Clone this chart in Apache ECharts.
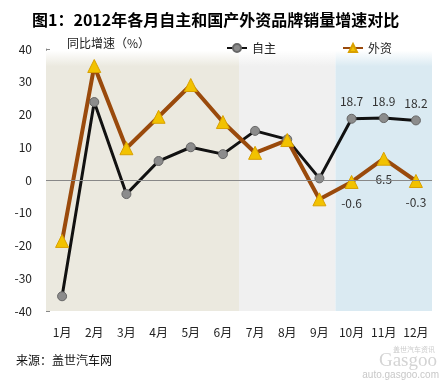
<!DOCTYPE html>
<html><head><meta charset="utf-8">
<script src="https://cdn.jsdelivr.net/npm/echarts@6/dist/echarts.min.js"></script>
<style>html,body{margin:0;padding:0;background:#fff}#c{width:443px;height:382px}</style>
</head><body><div id="c"></div>
<script>
const months = ['1月','2月','3月','4月','5月','6月','7月','8月','9月','10月','11月','12月'];
const domestic = [-35.5, 23.8, -4.3, 5.8, 10.0, 7.9, 15.0, 12.4, 0.5, 18.7, 18.9, 18.2];
const foreign = [-18.6, 34.8, 9.7, 19.3, 29.0, 17.7, 8.3, 12.2, -5.9, -0.6, 6.5, -0.3];
const labeledFrom = 9;
const yTicks = [-40, 40, 10];
const bands = [[0, 6, '#EBE9DF'], [6, 9, '#F0F0F0'], [9, 12, '#DAEAF2']];

const FONT = '"Noto Sans CJK SC", "Noto Sans", sans-serif';
function withLabels(arr, pos, dist) {
  return arr.map((v, i) => i >= labeledFrom
    ? { value: v, label: { show: true, position: pos, distance: dist, color: '#333', fontSize: 12, fontFamily: FONT } }
    : v);
}
function grad(c) {
  return { type: 'linear', x: 0, y: 0, x2: 0, y2: 1, colorStops: [
    { offset: 0, color: '#ffffff' }, { offset: 0.06, color: c }, { offset: 1, color: c }] };
}
const chart = echarts.init(document.getElementById('c'));
chart.setOption({
  animation: false,
  textStyle: { fontFamily: FONT },
  title: { text: '图1：2012年各月自主和国产外资品牌销量增速对比', left: 27, top: 7,
    textStyle: { fontSize: 16, fontWeight: 'bold', color: '#000', fontFamily: FONT } },
  legend: { left: 221, top: 37, itemGap: 66, itemWidth: 20, itemHeight: 10,
    textStyle: { fontSize: 12, color: '#222', fontFamily: FONT },
    data: ['自主', '外资'] },
  graphic: [
    { type: 'text', left: 67, top: 37, style: { text: '同比增速（%）', fontSize: 12, fill: '#222', fontFamily: FONT } },
    { type: 'text', left: 16, top: 354, style: { text: '来源：盖世汽车网', fontSize: 12, fill: '#111', fontFamily: FONT } },
    { type: 'text', right: 8, top: 346, style: { text: '盖世汽车资讯', fontSize: 7, fill: '#ccc', fontFamily: FONT } },
    { type: 'text', right: 6, top: 352, style: { text: 'Gasgoo', fontSize: 19, fill: '#d4d4d4', fontFamily: 'Liberation Serif' } },
    { type: 'text', right: 4, top: 370, style: { text: 'auto.gasgoo.com', fontSize: 10, fill: '#c8c8c8', fontFamily: 'Liberation Sans' } }
  ],
  grid: { left: 46, right: 11, top: 49, bottom: 71, containLabel: false },
  xAxis: [
    { type: 'category', data: months, boundaryGap: true,
      axisLine: { show: false }, axisTick: { show: false },
      axisLabel: { interval: 0, margin: 15, fontSize: 12, color: '#222', fontFamily: FONT } },
    { type: 'value', min: 0, max: 12, show: false }
  ],
  yAxis: { type: 'value', min: yTicks[0], max: yTicks[1], interval: yTicks[2],
    axisLine: { show: true, lineStyle: { color: '#888' } },
    axisTick: { show: true, inside: true, length: 4, lineStyle: { color: '#888' } },
    splitLine: { show: false },
    axisLabel: { margin: 14, fontSize: 12, color: '#222', fontFamily: FONT } },
  series: [
    { type: 'line', xAxisIndex: 1, data: [], silent: true,
      markArea: { silent: true, data: bands.map(b => [
        { xAxis: b[0], yAxis: 39.5, itemStyle: { color: grad(b[2]) } },
        { xAxis: b[1], yAxis: -40 }]) },
      markLine: { silent: true, symbol: 'none', label: { show: false },
        lineStyle: { color: '#888', width: 1, type: 'solid' },
        data: [{ yAxis: 0 }] } },
    { name: '自主', type: 'line', data: withLabels(domestic, 'top', 6),
      symbol: 'circle', symbolSize: 9,
      lineStyle: { color: '#111', width: 3 },
      itemStyle: { color: '#8c8c8c', borderColor: '#666', borderWidth: 1 } },
    { name: '外资', type: 'line', data: withLabels(foreign, 'bottom', 8),
      symbol: 'triangle', symbolSize: 13,
      lineStyle: { color: '#9A4A0C', width: 4 },
      itemStyle: { color: '#F2C200', borderColor: '#D9A000', borderWidth: 1 } }
  ]
});
</script></body></html>
